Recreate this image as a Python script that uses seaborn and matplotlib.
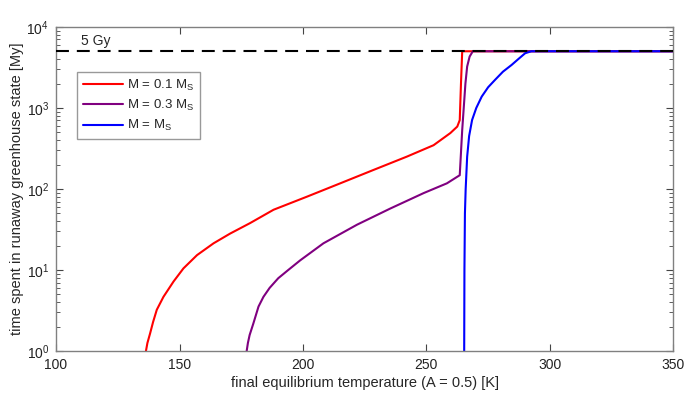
import numpy as np
import pandas as pd
import matplotlib
matplotlib.use("Agg")
import matplotlib.pyplot as plt
import seaborn as sns

# Data
red_T = [136.4, 137.0, 138.1, 139.3, 140.8, 143.5, 147.6, 151.6, 157.1, 163.8, 170.5, 178.6,
         188.1, 201.6, 215.1, 228.6, 242.1, 252.9, 259.7, 262.5, 263.5, 264.0, 264.5, 350.0]
red_t = [1.0, 1.26, 1.66, 2.29, 3.24, 4.68, 7.24, 10.5, 15.3, 21.4, 28.2, 38.0,
         55.5, 80.4, 117.5, 172.0, 251.0, 347.0, 490.0, 589.0, 708.0, 2000.0, 5000.0, 5000.0]

purple_T = [177.2, 177.7, 178.4, 179.9, 182.0, 184.0, 186.5, 190.0, 194.0, 198.9, 208.3,
            221.9, 235.4, 248.9, 258.3, 263.5, 264.5, 265.8, 266.5, 267.5, 268.8, 350.0]
purple_t = [1.0, 1.26, 1.58, 2.19, 3.55, 4.68, 6.03, 7.94, 10.0, 13.2, 21.4,
            36.3, 57.5, 89.1, 117.5, 148.0, 535.0, 2000.0, 3240.0, 4300.0, 5000.0, 5000.0]

blue_T = [265.3, 265.4, 265.6, 265.9, 266.5, 267.3, 268.5, 270.2, 272.4, 275.0, 277.8,
          281.0, 284.5, 287.2, 290.0, 292.5, 350.0]
blue_t = [1.0, 10.0, 50.0, 100.0, 250.0, 450.0, 710.0, 1000.0, 1380.0, 1800.0, 2220.0,
          2800.0, 3390.0, 4000.0, 4730.0, 5000.0, 5000.0]

labels = ["M = 0.1 M$_\\mathregular{S}$", "M = 0.3 M$_\\mathregular{S}$", "M = M$_\\mathregular{S}$"]
colors = ["#ff0000", "#800080", "#0000ff"]
limit_gy = 5000

sns.set_style("ticks")
plt.rcParams["font.family"] = ["Liberation Sans", "DejaVu Sans"]
plt.rcParams["mathtext.fontset"] = "custom"
plt.rcParams["mathtext.rm"] = "Liberation Sans"

fig = plt.figure(figsize=(6.92, 3.95), dpi=100)
ax = fig.add_axes([0.081, 0.111, 0.892, 0.821])

for T, t, lab, c in zip([red_T, purple_T, blue_T], [red_t, purple_t, blue_t], labels, colors):
    df = pd.DataFrame({"T": T, "t": t})
    sns.lineplot(data=df, x="T", y="t", ax=ax, color=c, lw=1.5, label=lab,
                 sort=False, estimator=None)

ax.axhline(limit_gy, color="black", ls=(0, (6.2, 3.8)), lw=1.5, zorder=5)
ax.text(110, 6760, "5 Gy", fontsize=10, va="center")

ax.set_yscale("log")
ax.set_xlim(100, 350)
ax.set_ylim(1, 1e4)
ax.set_xticks(np.arange(100, 351, 50))
ax.set_xlabel("final equilibrium temperature (A = 0.5) [K]", fontsize=10.5, labelpad=3)
ax.set_ylabel("time spent in runaway greenhouse state [My]", fontsize=10.5, labelpad=2)

for s in ax.spines.values():
    s.set_visible(True)
    s.set_color("#808080")
    s.set_linewidth(1.0)

# MATLAB-style box: inward ticks on all four sides, minor ticks on the log axis
ax.yaxis.set_minor_locator(matplotlib.ticker.LogLocator(base=10, subs=np.arange(2, 10)))
ax.yaxis.set_minor_formatter(matplotlib.ticker.NullFormatter())
ax.xaxis.set_minor_locator(matplotlib.ticker.NullLocator())
ax.tick_params(axis="both", which="both", direction="in", bottom=True, left=True,
               top=True, right=True, colors="#444444", labelcolor="#222222", labelsize=10)
ax.tick_params(axis="both", which="major", length=5, width=0.8, pad=5)
ax.tick_params(axis="y", which="minor", length=3, width=0.6)

leg = ax.legend(loc="upper left", bbox_to_anchor=(0.034, 0.862), fontsize=9.5,
                frameon=True, fancybox=False, handlelength=3.0, handletextpad=0.35,
                borderpad=0.45, labelspacing=0.4, borderaxespad=0)
leg.get_frame().set_edgecolor("#808080")
leg.get_frame().set_linewidth(1.0)

fig.savefig("out.png", dpi=100)
